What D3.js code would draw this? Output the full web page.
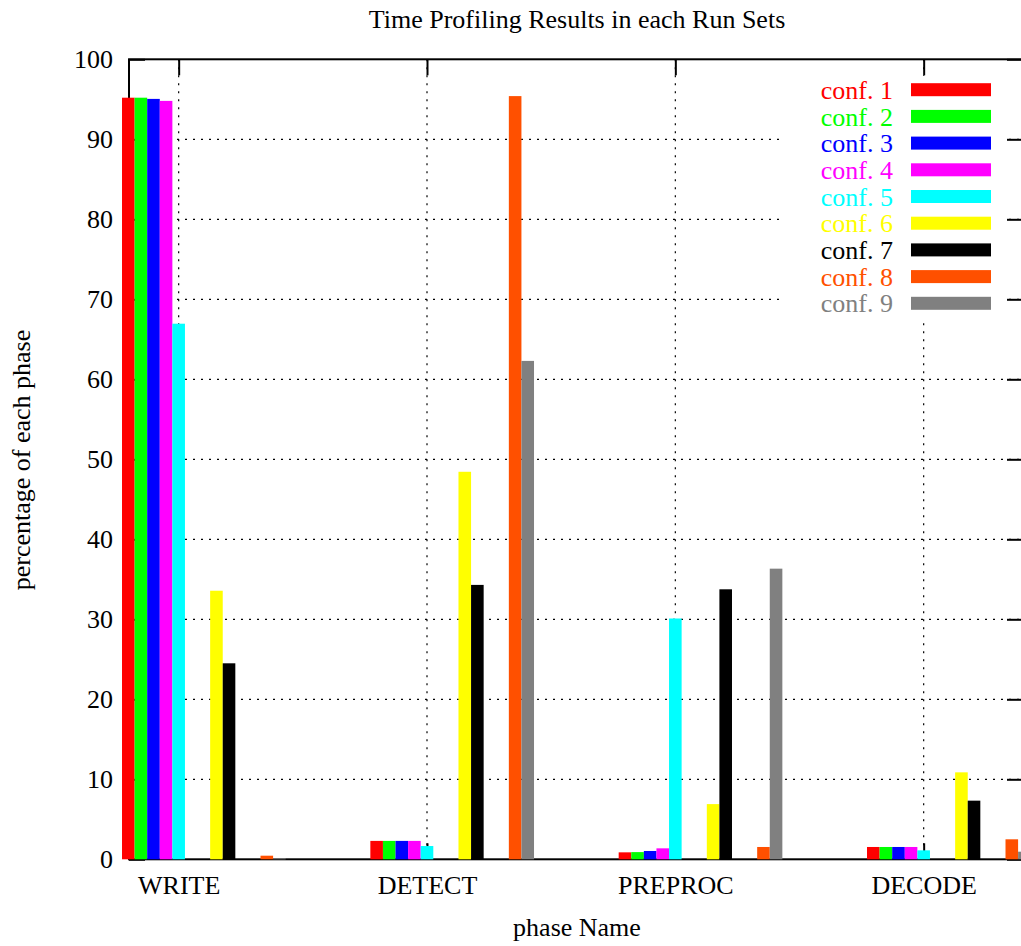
<!DOCTYPE html>
<html lang="en">
<head>
<meta charset="utf-8">
<title>Time Profiling Results</title>
<script src="https://d3js.org/d3.v7.min.js"></script>
<style>
  body { margin: 0; background: #fff; }
  text { font-family: "Liberation Serif", "Times New Roman", serif; }
</style>
</head>
<body>
<div id="chart"></div>
<script>
// phases on the x axis
const categories = ["WRITE", "DETECT", "PREPROC", "DECODE"];
const seriesNames = ["conf. 1", "conf. 2", "conf. 3", "conf. 4", "conf. 5",
                     "conf. 6", "conf. 7", "conf. 8", "conf. 9"];

// percentage per phase, one array per configuration
const conf1 = [95.2, 2.3, 0.87, 1.54];
const conf2 = [95.2, 2.3, 0.9, 1.54];
const conf3 = [95.05, 2.3, 1.04, 1.54];
const conf4 = [94.8, 2.3, 1.37, 1.54];
const conf5 = [66.95, 1.66, 30.1, 1.12];
const conf6 = [33.57, 48.44, 6.9, 10.87];
const conf7 = [24.5, 34.3, 33.75, 7.33];
const conf8 = [0.45, 95.4, 1.54, 2.5];
const conf9 = [0.12, 62.3, 36.33, 0.95];
const yTicks = [0, 10, 20, 30, 40, 50, 60, 70, 80, 90, 100];

const seriesValues = [conf1, conf2, conf3, conf4, conf5, conf6, conf7, conf8, conf9];

// styling
const colors = ["#ff0000", "#00ff00", "#0000ff", "#ff00ff", "#00ffff",
                "#ffff00", "#000000", "#ff5000", "#808080"];
const slot = [0, 1, 2, 3, 4, 7, 8, 11, 12]; // bar position inside a cluster
const barW = 0.0507;

const width = 1021, height = 946;
const margin = {top: 59.3, right: -2, bottom: 86.7, left: 129};
const fontSize = 26;

const svg = d3.select("#chart").append("svg")
  .attr("width", width).attr("height", height);

const x = d3.scaleLinear()
  .domain([-0.2, 3.4])
  .range([margin.left, width - margin.right]);

const y = d3.scaleLinear()
  .domain([0, 100])
  .range([height - margin.bottom, margin.top]);

const x0 = margin.left, x1 = width - margin.right;
const yTop = margin.top, yBot = height - margin.bottom;

// grid
const grid = svg.append("g")
  .attr("stroke", "#000").attr("stroke-width", 1.2)
  .attr("stroke-dasharray", "2,6");
grid.selectAll("line.h")
  .data(yTicks.filter(d => d > 0 && d < 100))
  .join("line")
    .attr("x1", x0).attr("x2", x1)
    .attr("y1", d => y(d)).attr("y2", d => y(d));
grid.selectAll("line.v")
  .data(d3.range(categories.length))
  .join("line")
    .attr("x1", d => x(d)).attr("x2", d => x(d))
    .attr("y1", yTop).attr("y2", yBot);

// axes: ticks pointing inside, labels outside
const axisLeft = svg.append("g")
  .attr("transform", `translate(${x0},0)`)
  .call(d3.axisLeft(y).tickValues(yTicks).tickSize(-16).tickPadding(16));
const axisRight = svg.append("g")
  .attr("transform", `translate(${x1},0)`)
  .call(d3.axisRight(y).tickValues(yTicks).tickSize(-16).tickFormat(""));
const axisBottom = svg.append("g")
  .attr("transform", `translate(0,${yBot})`)
  .call(d3.axisBottom(x).tickValues(d3.range(categories.length))
    .tickFormat(i => categories[i]).tickSize(-16).tickPadding(16));
const axisTop = svg.append("g")
  .attr("transform", `translate(0,${yTop})`)
  .call(d3.axisTop(x).tickValues(d3.range(categories.length))
    .tickSize(-16).tickFormat(""));

[axisLeft, axisRight, axisBottom, axisTop].forEach(g => {
  g.select(".domain").remove();
  g.selectAll(".tick line").attr("stroke", "#000").attr("stroke-width", 2);
  g.selectAll(".tick text")
    .attr("fill", "#000")
    .style("font-family", '"Liberation Serif", "Times New Roman", serif')
    .style("font-size", fontSize + "px");
});

// border
svg.append("rect")
  .attr("x", x0).attr("y", yTop)
  .attr("width", x1 - x0).attr("height", yBot - yTop)
  .attr("fill", "none").attr("stroke", "#000").attr("stroke-width", 2);

// bars
const bars = [];
seriesValues.forEach((vals, s) => {
  vals.forEach((v, i) => bars.push({s, i, v}));
});
svg.append("g")
  .selectAll("rect")
  .data(bars)
  .join("rect")
    .attr("x", d => x(d.i + (slot[d.s] - 4.5) * barW))
    .attr("width", d => x(barW) - x(0))
    .attr("y", d => y(d.v))
    .attr("height", d => y(0) - y(d.v))
    .attr("fill", d => colors[d.s]);

// legend
const legend = svg.append("g");
legend.append("rect")
  .attr("x", 782).attr("y", 76).attr("width", 221).attr("height", 242)
  .attr("fill", "#fff");
const rows = legend.selectAll("g.row")
  .data(seriesNames)
  .join("g")
    .attr("transform", (d, i) => `translate(0,${89.7 + i * 26.7})`);
rows.append("text")
  .attr("x", 893).attr("dy", "0.35em")
  .attr("text-anchor", "end")
  .attr("fill", (d, i) => colors[i])
  .style("font-size", fontSize + "px")
  .text(d => d);
rows.append("rect")
  .attr("x", 911).attr("y", -6.5)
  .attr("width", 80).attr("height", 13)
  .attr("fill", (d, i) => colors[i]);

// title and axis labels
svg.append("text")
  .attr("x", 577).attr("y", 28)
  .attr("text-anchor", "middle")
  .style("font-size", fontSize + "px")
  .text("Time Profiling Results in each Run Sets");

svg.append("text")
  .attr("x", 577).attr("y", 936)
  .attr("text-anchor", "middle")
  .style("font-size", fontSize + "px")
  .text("phase Name");

svg.append("text")
  .attr("transform", "translate(30,460) rotate(-90)")
  .attr("text-anchor", "middle")
  .style("font-size", fontSize + "px")
  .text("percentage of each phase");
</script>
</body>
</html>
